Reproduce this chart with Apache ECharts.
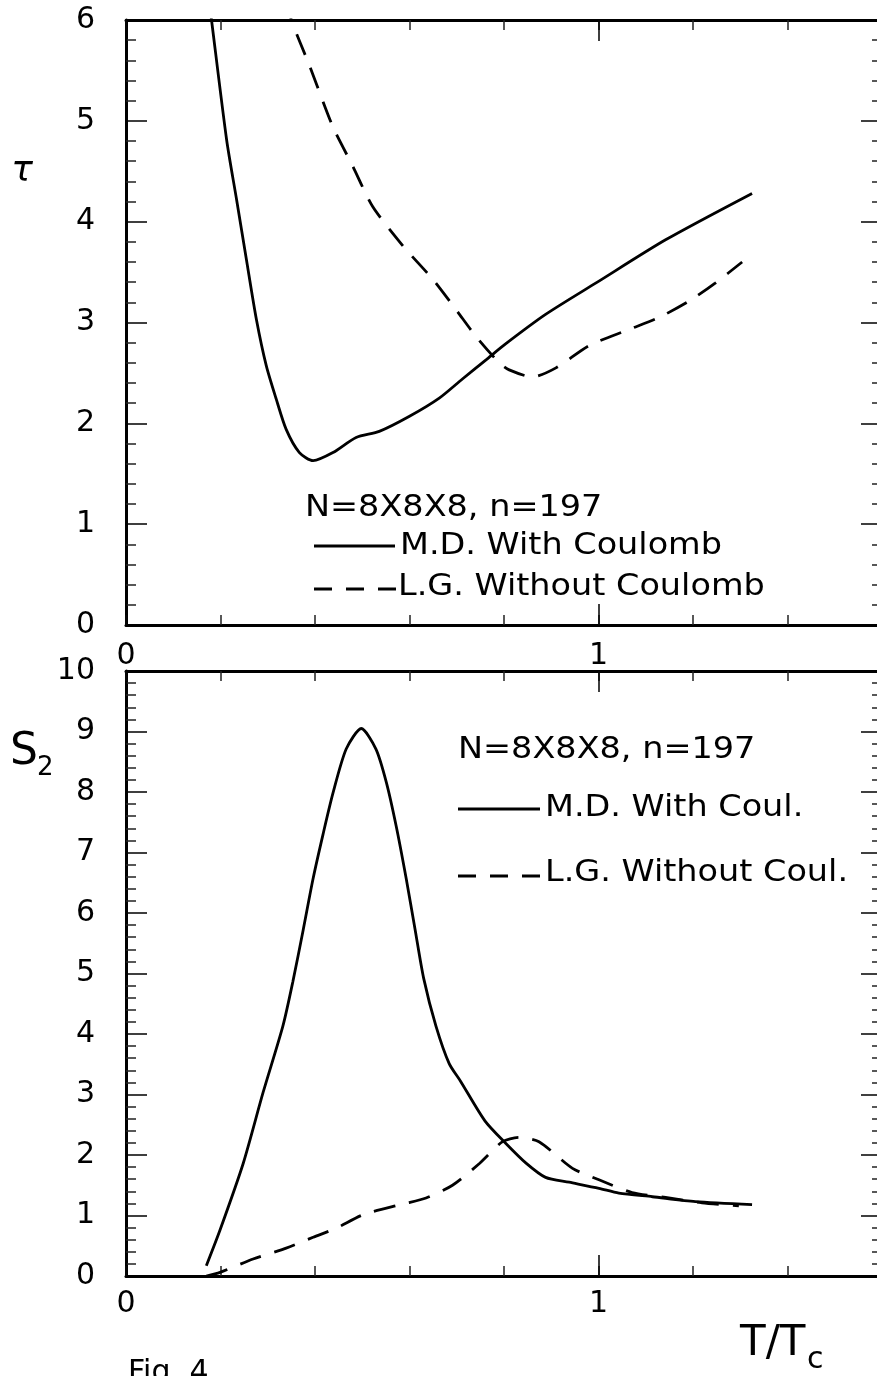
<!DOCTYPE html>
<html>
<head>
<meta charset="utf-8">
<script src="https://cdn.jsdelivr.net/npm/echarts@6/dist/echarts.min.js"></script>
<style>
html,body{margin:0;padding:0;background:#fff;}
#chart{width:877px;height:1376px;}
</style>
</head>
<body>
<div id="chart"></div>
<script>
// ---- Data ----
// Top panel: tau vs T/Tc
const tauMD_x = [0.173, 0.181, 0.213, 0.234, 0.255, 0.276, 0.297, 0.318, 0.339, 0.367, 0.396, 0.438, 0.487, 0.536, 0.600, 0.663, 0.712, 0.762, 0.804, 0.888, 0.994, 1.142, 1.325];
const tauMD_y = [6.30, 6.00, 4.81, 4.22, 3.62, 3.03, 2.57, 2.24, 1.94, 1.71, 1.63, 1.71, 1.86, 1.92, 2.07, 2.25, 2.44, 2.63, 2.79, 3.08, 3.39, 3.82, 4.28];
const tauLG_x = [0.342, 0.350, 0.389, 0.438, 0.480, 0.522, 0.586, 0.649, 0.698, 0.741, 0.790, 0.811, 0.860, 0.910, 0.980, 1.064, 1.128, 1.191, 1.247, 1.304];
const tauLG_y = [6.20, 6.00, 5.54, 4.94, 4.55, 4.15, 3.76, 3.43, 3.13, 2.86, 2.60, 2.53, 2.46, 2.55, 2.77, 2.93, 3.05, 3.21, 3.39, 3.60];
// Bottom panel: S2 vs T/Tc
const s2MD_x = [0.170, 0.199, 0.248, 0.290, 0.332, 0.353, 0.375, 0.396, 0.417, 0.438, 0.466, 0.498, 0.529, 0.551, 0.572, 0.593, 0.612, 0.630, 0.656, 0.684, 0.708, 0.760, 0.804, 0.846, 0.888, 0.938, 1.001, 1.043, 1.114, 1.205, 1.325];
const s2MD_y = [0.17, 0.76, 1.86, 3.03, 4.13, 4.86, 5.72, 6.57, 7.30, 7.98, 8.71, 9.05, 8.71, 8.16, 7.43, 6.57, 5.72, 4.92, 4.13, 3.51, 3.22, 2.56, 2.19, 1.87, 1.63, 1.55, 1.45, 1.37, 1.31, 1.23, 1.18];
const s2LG_x = [0.170, 0.199, 0.269, 0.339, 0.396, 0.445, 0.501, 0.586, 0.635, 0.691, 0.748, 0.797, 0.832, 0.874, 0.945, 1.001, 1.071, 1.142, 1.219, 1.297];
const s2LG_y = [0.00, 0.06, 0.28, 0.46, 0.64, 0.79, 1.01, 1.19, 1.29, 1.50, 1.86, 2.22, 2.29, 2.22, 1.78, 1.59, 1.38, 1.30, 1.21, 1.16];
// Axis ranges / labels
const xRange = [0, 1.6];
const tauRange = [0, 6];
const s2Range = [0, 10];
const xLabelValues = [0, 1];
const legendTop = ["N=8X8X8, n=197", "M.D. With Coulomb", "L.G. Without Coulomb"];
const legendBottom = ["N=8X8X8, n=197", "M.D. With Coul.", "L.G. Without Coul."];

const FONT = '"DejaVu Sans", "Liberation Sans", sans-serif';
const BLACK = '#000';

function pairs(xs, ys) { return xs.map((x, i) => [x, ys[i]]); }

const grids = [
  { left: 126, top: 20, width: 756, height: 605 },
  { left: 126, top: 671, width: 756, height: 605 }
];

function xAxesFor(g) {
  const base = { type: 'value', gridIndex: g, min: xRange[0], max: xRange[1], splitLine: { show: false } };
  return [
    Object.assign({}, base, { position: 'bottom', interval: 0.2,
      axisLine: { show: true, onZero: false, lineStyle: { color: BLACK, width: 3 } },
      axisTick: { show: true, inside: true, length: 10, lineStyle: { color: '#222', width: 1.5 } },
      axisLabel: { show: false } }),
    Object.assign({}, base, { position: 'top', interval: 0.2,
      axisLine: { show: true, onZero: false, lineStyle: { color: BLACK, width: 3 } },
      axisTick: { show: true, inside: true, length: 10, lineStyle: { color: '#222', width: 1.5 } },
      axisLabel: { show: false } }),
    Object.assign({}, base, { position: 'bottom', interval: 1,
      axisLine: { show: false, onZero: false },
      axisTick: { show: true, inside: true, length: 21, lineStyle: { color: BLACK, width: 1.5 } },
      axisLabel: { show: true, showMaxLabel: false, margin: g === 0 ? 16 : 13, color: BLACK,
        fontFamily: FONT, fontSize: 30,
        formatter: v => (xLabelValues.indexOf(Math.round(v * 1000) / 1000) >= 0 ? String(Math.round(v)) : '') } }),
    Object.assign({}, base, { position: 'top', interval: 1,
      axisLine: { show: false, onZero: false },
      axisTick: { show: true, inside: true, length: 21, lineStyle: { color: BLACK, width: 1.5 } },
      axisLabel: { show: false } })
  ];
}

function yAxesFor(g, range) {
  const base = { type: 'value', gridIndex: g, min: range[0], max: range[1], interval: 1, splitLine: { show: false },
    minorTick: { show: true, splitNumber: 5, length: 10, lineStyle: { color: '#222', width: 1.5 } },
    minorSplitLine: { show: false },
    axisLine: { show: true, onZero: false, lineStyle: { color: BLACK, width: 3 } },
    axisTick: { show: true, inside: true, length: 21, lineStyle: { color: BLACK, width: 1.5 } } };
  return [
    Object.assign({}, base, { position: 'left',
      axisLabel: { show: true, margin: 31, color: BLACK, fontFamily: FONT, fontSize: 30 } }),
    Object.assign({}, base, { position: 'right', axisLabel: { show: false } })
  ];
}

const xAxis = xAxesFor(0).concat(xAxesFor(1));
const yAxis = yAxesFor(0, tauRange).concat(yAxesFor(1, s2Range));

function lineSeries(name, data, xi, yi, dashed) {
  return {
    name, type: 'line', data, xAxisIndex: xi, yAxisIndex: yi,
    symbol: 'none', smooth: 0.25, clip: true, silent: true,
    lineStyle: { color: BLACK, width: 2.8, type: dashed ? [22, 14] : 'solid' }
  };
}

const series = [
  lineSeries('tau M.D.', pairs(tauMD_x, tauMD_y), 0, 0, false),
  lineSeries('tau L.G.', pairs(tauLG_x, tauLG_y), 0, 0, true),
  lineSeries('S2 M.D.', pairs(s2MD_x, s2MD_y), 4, 2, false),
  lineSeries('S2 L.G.', pairs(s2LG_x, s2LG_y), 4, 2, true)
];

function txt(x, y, text, size, opts) {
  opts = opts || {};
  return { type: 'text', x, y, scaleX: opts.sx || 1, silent: true,
    style: { text, fill: BLACK, font: (opts.style || 'normal') + ' ' + size + 'px ' + FONT,
      align: opts.align || 'left', verticalAlign: opts.va || 'middle' } };
}
function seg(x1, x2, y, dashed) {
  return { type: 'line', silent: true, shape: { x1, y1: y, x2, y2: y },
    style: { stroke: BLACK, lineWidth: 2.8, lineDash: dashed ? [18, 14] : null } };
}

const SX = 1.08;
const graphic = [
  // top panel legend
  txt(305, 508, legendTop[0], 31, { sx: SX }),
  seg(314, 395, 546, false),
  txt(400, 546, legendTop[1], 31, { sx: SX }),
  seg(314, 396, 589, true),
  txt(398, 587, legendTop[2], 31, { sx: SX }),
  // bottom panel legend
  txt(458, 750, legendBottom[0], 31, { sx: SX }),
  seg(458, 540, 809, false),
  txt(545, 808, legendBottom[1], 31, { sx: SX }),
  seg(458, 540, 876, true),
  txt(545, 873, legendBottom[2], 31, { sx: SX }),
  // axis titles
  txt(22, 172, 'τ', 36, { style: 'italic', align: 'center' }),
  txt(10, 753, 'S', 44, {}),
  txt(37, 768, '2', 26, {}),
  txt(740, 1344, 'T/T', 42, {}),
  txt(807, 1360, 'c', 30, {}),
  txt(128, 1358, 'Fig. 4', 30, { va: 'top' })
];

const chart = echarts.init(document.getElementById('chart'), null, { renderer: 'canvas' });
chart.setOption({
  animation: false,
  backgroundColor: '#fff',
  grid: grids.map(g => Object.assign({ containLabel: false, outerBoundsMode: 'none' }, g)),
  xAxis, yAxis, series, graphic
});
</script>
</body>
</html>
